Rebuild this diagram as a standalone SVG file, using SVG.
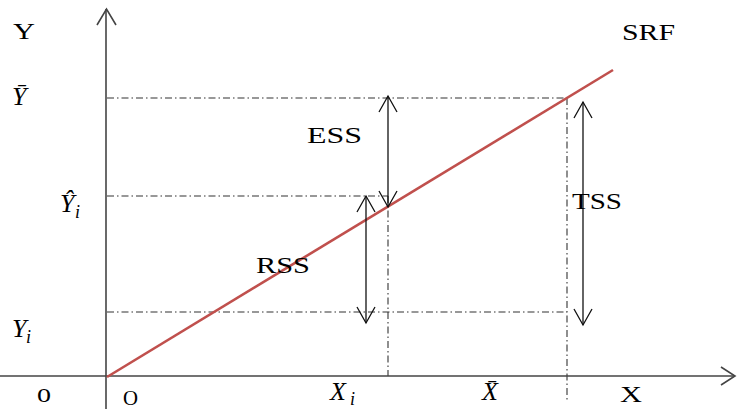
<svg xmlns="http://www.w3.org/2000/svg" width="737" height="409" viewBox="0 0 737 409">
<style>
.axis{stroke:#444;stroke-width:1.6;fill:none}
.dd{stroke:#333;stroke-width:1.1;fill:none;stroke-dasharray:7,3,1.5,3}
.srf{stroke:#C0504D;stroke-width:2.6;fill:none}
.dbl{stroke:#111;stroke-width:1.3;fill:none;marker-start:url(#oa);marker-end:url(#oa)}
text{font-family:'Liberation Serif','Times New Roman',Times,serif;fill:#000}
.t{font-size:24px}
.m{font-style:italic;font-size:26px}
.s{font-style:italic;font-size:18px}
</style>
<defs>
<marker id="oa" markerUnits="userSpaceOnUse" markerWidth="20" markerHeight="20" refX="0" refY="0" viewBox="-17 -10 18 20" orient="auto-start-reverse" overflow="visible">
<path d="M-16,-9 L0,0 L-16,9" fill="none" stroke="#111" stroke-width="1.3"/>
</marker>
</defs>
<g id="connectors">
<path class="dd" d="M107,98 H567"/>
<path class="dd" d="M107,196 H388"/>
<path class="dd" d="M107,312 H567"/>
<path class="dd" d="M388,196 V376"/>
<path class="dd" d="M567,98 V400"/>
<path class="axis" d="M106,409 V9"/>
<path class="axis" d="M97,25 L106.5,9 L116,25"/>
<path class="axis" d="M0,376 H735"/>
<path class="axis" d="M721,367 L735,376 L721,385"/>
<path class="srf" d="M107,377 L613,70"/>
<path class="dbl" d="M388,96 V207"/>
<path class="dbl" d="M366,196 V323"/>
<path class="dbl" d="M583,102 V325"/>
</g>
<g id="labels">
<text class="t" x="13" y="39" textLength="22" lengthAdjust="spacingAndGlyphs">Y</text>
<text class="t" x="622" y="40" textLength="53" lengthAdjust="spacingAndGlyphs">SRF</text>
<text class="t" x="307" y="143" textLength="55" lengthAdjust="spacingAndGlyphs">ESS</text>
<text class="t" x="256" y="273" textLength="54" lengthAdjust="spacingAndGlyphs">RSS</text>
<text class="t" x="572" y="209" textLength="50" lengthAdjust="spacingAndGlyphs">TSS</text>
<text class="t" x="620" y="402" textLength="22" lengthAdjust="spacingAndGlyphs">X</text>
<text class="t" x="37" y="402" style="font-size:27px" textLength="14" lengthAdjust="spacingAndGlyphs">o</text>
<text class="t" x="123" y="405" style="font-size:22px" textLength="15" lengthAdjust="spacingAndGlyphs">O</text>
<text class="m" x="12" y="105">Ȳ</text>
<text class="m" x="60" y="212">Ŷ</text>
<text class="s" x="75" y="218">i</text>
<text class="m" x="12" y="337">Y</text>
<text class="s" x="26" y="343">i</text>
<text class="m" x="330" y="400">X</text>
<text class="s" x="350" y="405">i</text>
<text class="m" x="482" y="400">X̄</text>
</g>
</svg>
